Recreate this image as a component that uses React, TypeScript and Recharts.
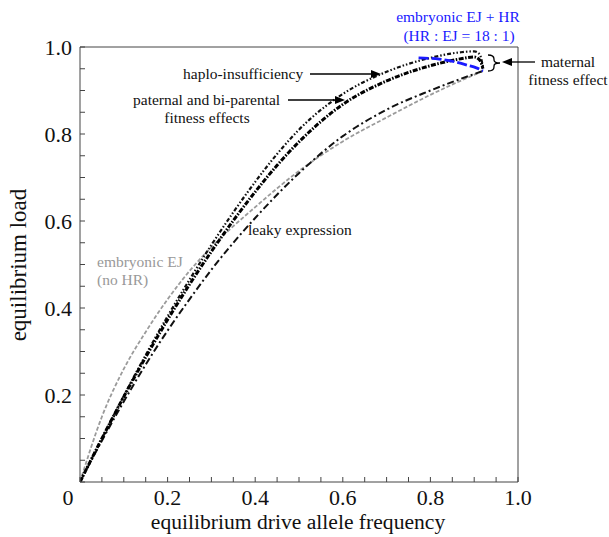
import React from "react";
import { LineChart, Line, XAxis, YAxis } from "recharts";

// curves: x = drive allele frequency, y = load
const grayNoHR = [
  { x: 0, y: 0 },
  { x: 0.05, y: 0.15 },
  { x: 0.1, y: 0.26 },
  { x: 0.15, y: 0.345 },
  { x: 0.2, y: 0.42 },
  { x: 0.25, y: 0.485 },
  { x: 0.3, y: 0.54 },
  { x: 0.4, y: 0.632 },
  { x: 0.5, y: 0.715 },
  { x: 0.6, y: 0.783 },
  { x: 0.7, y: 0.838 },
  { x: 0.8, y: 0.89 },
  { x: 0.92, y: 0.945 },
];

const leaky = [
  { x: 0, y: 0 },
  { x: 0.05, y: 0.095 },
  { x: 0.1, y: 0.185 },
  { x: 0.15, y: 0.27 },
  { x: 0.2, y: 0.348 },
  { x: 0.25, y: 0.42 },
  { x: 0.3, y: 0.488 },
  { x: 0.35, y: 0.55 },
  { x: 0.4, y: 0.607 },
  { x: 0.5, y: 0.71 },
  { x: 0.6, y: 0.795 },
  { x: 0.7, y: 0.856 },
  { x: 0.8, y: 0.9 },
  { x: 0.92, y: 0.945 },
];

const paternal = [
  { x: 0, y: 0 },
  { x: 0.05, y: 0.1 },
  { x: 0.1, y: 0.196 },
  { x: 0.15, y: 0.287 },
  { x: 0.2, y: 0.373 },
  { x: 0.25, y: 0.454 },
  { x: 0.3, y: 0.53 },
  { x: 0.35, y: 0.601 },
  { x: 0.4, y: 0.667 },
  { x: 0.45, y: 0.728 },
  { x: 0.5, y: 0.782 },
  { x: 0.6, y: 0.868 },
  { x: 0.7, y: 0.922 },
  { x: 0.8, y: 0.957 },
  { x: 0.87, y: 0.973 },
  { x: 0.9, y: 0.977 },
  { x: 0.914, y: 0.968 },
  { x: 0.92, y: 0.95 },
];

const haplo = [
  { x: 0, y: 0 },
  { x: 0.05, y: 0.1 },
  { x: 0.1, y: 0.198 },
  { x: 0.15, y: 0.292 },
  { x: 0.2, y: 0.381 },
  { x: 0.25, y: 0.465 },
  { x: 0.3, y: 0.545 },
  { x: 0.35, y: 0.62 },
  { x: 0.4, y: 0.69 },
  { x: 0.45, y: 0.754 },
  { x: 0.5, y: 0.81 },
  { x: 0.6, y: 0.892 },
  { x: 0.7, y: 0.943 },
  { x: 0.8, y: 0.975 },
  { x: 0.87, y: 0.988 },
  { x: 0.9, y: 0.99 },
  { x: 0.912, y: 0.984 },
  { x: 0.92, y: 0.955 },
];

const ejPlusHR = [
  { x: 0.773, y: 0.975 },
  { x: 0.82, y: 0.972 },
  { x: 0.855, y: 0.966 },
  { x: 0.885, y: 0.958 },
  { x: 0.905, y: 0.952 },
  { x: 0.92, y: 0.945 },
];

const allTicks = [
  0, 0.05, 0.1, 0.15, 0.2, 0.25, 0.3, 0.35, 0.4, 0.45, 0.5, 0.55, 0.6, 0.65,
  0.7, 0.75, 0.8, 0.85, 0.9, 0.95, 1,
];
const majorTicks = [0, 0.2, 0.4, 0.6, 0.8, 1];
const xTickLabels = ["0", "0.2", "0.4", "0.6", "0.8", "1.0"];
const yTickLabels = ["", "0.2", "0.4", "0.6", "0.8", "1.0"];

const serif = "Liberation Serif";
const axisColor = "#444";
const blue = "#1a1aff";

function labelFor(v: number, labels: string[]) {
  const i = majorTicks.findIndex((m) => Math.abs(m - v) < 1e-6);
  return i >= 0 ? labels[i] : "";
}

function XTick(props: any) {
  const { x, y, payload } = props;
  const label = labelFor(payload.value, xTickLabels);
  if (!label) return null;
  const dx = payload.value === 0 ? -12 : 0;
  return (
    <text x={x + dx} y={y} dy="0.71em" textAnchor="middle" fontFamily={serif} fontSize={22} fill="#111">
      {label}
    </text>
  );
}

function YTick(props: any) {
  const { x, y, payload } = props;
  const label = labelFor(payload.value, yTickLabels);
  if (!label) return null;
  return (
    <text x={x} y={y} dy="0.35em" textAnchor="end" fontFamily={serif} fontSize={22} fill="#111">
      {label}
    </text>
  );
}

function ArrowLeft({ x1, x2, y }: { x1: number; x2: number; y: number }) {
  return (
    <g>
      <line x1={x1} y1={y} x2={x2 + 8} y2={y} stroke="#000" strokeWidth={1.3} />
      <polygon points={`${x2},${y} ${x2 + 10},${y - 4} ${x2 + 10},${y + 4}`} fill="#000" />
    </g>
  );
}

function ArrowRight({ x1, x2, y }: { x1: number; x2: number; y: number }) {
  return (
    <g>
      <line x1={x1} y1={y} x2={x2 - 8} y2={y} stroke="#000" strokeWidth={1.3} />
      <polygon points={`${x2},${y} ${x2 - 10},${y - 4} ${x2 - 10},${y + 4}`} fill="#000" />
    </g>
  );
}

// html label: anchor "middle" centres on x, "start" puts left edge on x; y is the vertical centre
function Note(props: {
  x: number;
  y: number;
  text: string;
  anchor?: "middle" | "start";
  color?: string;
  size?: number;
}) {
  const { x, y, text, anchor = "middle", color = "#111", size = 15.5 } = props;
  return (
    <div
      style={{
        position: "absolute",
        left: x,
        top: y,
        transform: anchor === "middle" ? "translate(-50%, -50%)" : "translate(0, -50%)",
        whiteSpace: "nowrap",
        fontFamily: serif,
        fontSize: size,
        lineHeight: 1,
        color,
      }}
    >
      {text}
    </div>
  );
}

export default function App() {
  return (
    <div
      style={{
        position: "absolute",
        left: 0,
        top: 0,
        width: 609,
        height: 537,
        overflow: "hidden",
        fontFamily: serif,
      }}
    >
      <LineChart width={609} height={537} margin={{ top: 46, right: 90, bottom: 0, left: 0 }}>
        <XAxis
          dataKey="x"
          type="number"
          domain={[0, 1]}
          ticks={allTicks}
          interval={0}
          tickSize={-5}
          tickMargin={12}
          height={55}
          stroke={axisColor}
          tick={<XTick />}
          allowDataOverflow
        />
        <XAxis
          xAxisId="top"
          orientation="top"
          dataKey="x"
          type="number"
          domain={[0, 1]}
          ticks={allTicks}
          interval={0}
          tickSize={-5}
          height={1}
          stroke={axisColor}
          tickFormatter={() => ""}
        />
        <YAxis
          type="number"
          domain={[0, 1]}
          ticks={allTicks}
          interval={0}
          tickSize={-5}
          tickMargin={13}
          width={80}
          stroke={axisColor}
          tick={<YTick />}
          allowDataOverflow
        />
        <YAxis
          yAxisId="right"
          orientation="right"
          type="number"
          domain={[0, 1]}
          ticks={allTicks}
          interval={0}
          tickSize={-5}
          width={1}
          stroke={axisColor}
          tickFormatter={() => ""}
        />
        <Line data={grayNoHR} dataKey="y" type="monotone" stroke="#9b9b9b" strokeWidth={1.8} strokeDasharray="4 2" dot={false} activeDot={false} isAnimationActive={false} />
        <Line data={leaky} dataKey="y" type="monotone" stroke="#111" strokeWidth={2} strokeDasharray="7 3 2 3" dot={false} activeDot={false} isAnimationActive={false} />
        <Line data={haplo} dataKey="y" type="monotone" stroke="#111" strokeWidth={2.2} strokeDasharray="4 2 1.5 2 1.5 2" dot={false} activeDot={false} isAnimationActive={false} />
        <Line data={paternal} dataKey="y" type="monotone" stroke="#000" strokeWidth={3} strokeDasharray="5 1.5 1.5 1.5" dot={false} activeDot={false} isAnimationActive={false} />
        <Line data={ejPlusHR} dataKey="y" type="monotone" stroke={blue} strokeWidth={2.8} strokeDasharray="10 3" dot={false} activeDot={false} isAnimationActive={false} />
      </LineChart>

      <svg width={609} height={537} style={{ position: "absolute", left: 0, top: 0, pointerEvents: "none" }}>
        <ArrowRight x1={310} x2={381} y={74} />
        <ArrowRight x1={288} x2={345} y={100} />
        <ArrowLeft x1={535} x2={502} y={62} />
        <path
          d="M488,55 Q494,55 494,59 L494,60 Q494,63 500,63 Q494,63 494,66 L494,67 Q494,71 488,71"
          fill="none"
          stroke="#000"
          strokeWidth={1.3}
        />
      </svg>

      <Note x={458} y={17} text="embryonic EJ + HR" color={blue} />
      <Note x={459} y={36} text="(HR : EJ = 18 : 1)" color={blue} />
      <Note x={568} y={62} text="maternal" />
      <Note x={568} y={80} text="fitness effect" />
      <Note x={183} y={74} text="haplo-insufficiency" anchor="start" />
      <Note x={133} y={100} text="paternal and bi-parental" anchor="start" />
      <Note x={207} y={118} text="fitness effects" />
      <Note x={248} y={230} text="leaky expression" anchor="start" />
      <Note x={97} y={262} text="embryonic EJ" anchor="start" color="#999" />
      <Note x={97} y={280} text="(no HR)" anchor="start" color="#999" />
      <Note x={298} y={523} text="equilibrium drive allele frequency" size={21.6} />
      <div
        style={{
          position: "absolute",
          left: 18,
          top: 265,
          transform: "translate(-50%, -50%) rotate(-90deg)",
          whiteSpace: "nowrap",
          fontFamily: serif,
          fontSize: 23,
          lineHeight: 1,
          color: "#111",
        }}
      >
        equilibrium load
      </div>
    </div>
  );
}
